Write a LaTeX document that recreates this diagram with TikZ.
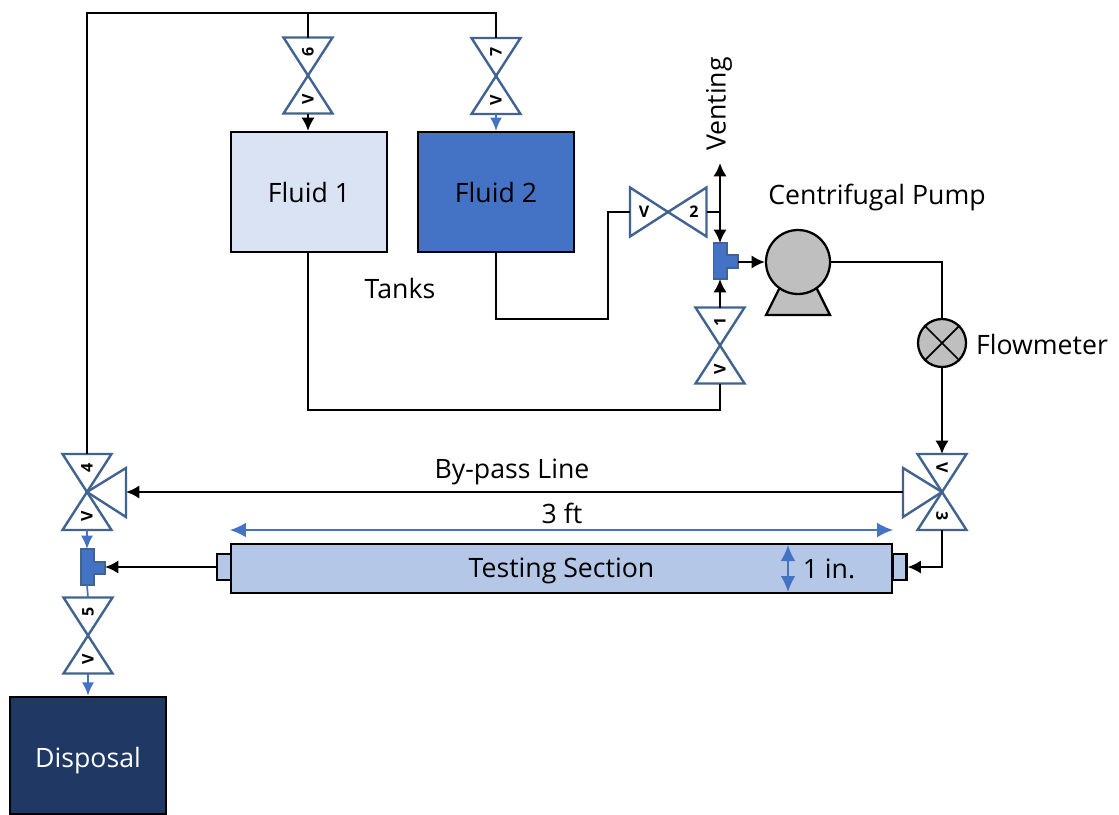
\documentclass[tikz,border=0pt]{standalone}
\usepackage{fontspec}
\setmainfont{Open Sans}
\usetikzlibrary{arrows.meta}
\definecolor{valveblue}{HTML}{41638F}
\definecolor{lineblue}{HTML}{4472C4}
\definecolor{paleblue}{HTML}{DAE3F3}
\definecolor{midblue}{HTML}{B4C7E7}
\definecolor{navy}{HTML}{1F3864}
\definecolor{pumpgrey}{HTML}{BFBFBF}
\tikzset{
  x=0.75pt,y=-0.75pt,
  pipe/.style={draw=black,line width=1.7pt,line join=miter},
  flow/.style={pipe,-{Latex[length=10pt,width=10pt]}},
  flowboth/.style={pipe,{Latex[length=10pt,width=10pt]}-{Latex[length=10pt,width=10pt]}},
  bluepipe/.style={draw=lineblue,line width=1.3pt},
  blueflow/.style={bluepipe,-{Latex[length=10pt,width=9pt]}},
  blueboth/.style={bluepipe,{Latex[length=12pt,width=11pt]}-{Latex[length=12pt,width=11pt]}},
  valveline/.style={draw=valveblue,line width=1.8pt,line join=miter,fill=white},
  vlabel/.style={inner sep=0pt,font=\fontsize{12}{12}\selectfont\bfseries},
  tank/.style={draw=black,line width=1.7pt,inner sep=0pt,text=black,font=\fontsize{20}{24}\selectfont},
  part/.style={draw=black,line width=1.7pt,fill=midblue,inner sep=0pt},
  tee/.style={draw=valveblue,line width=0.8pt,fill=lineblue},
  caption/.style={inner sep=0pt,font=\fontsize{20}{24}\selectfont},
}
\newcommand{\vvalve}[6]{% name, x, y, top label, bottom label, rotation
  \coordinate (#1-c) at (#2,#3);
  \coordinate (#1-t) at (#2,#3-38);
  \coordinate (#1-b) at (#2,#3+38);
  \path[valveline] (#2-24.5,#3-38) -- (#2+24.5,#3-38) -- (#1-c) -- cycle;
  \path[valveline] (#2-24.5,#3+38) -- (#2+24.5,#3+38) -- (#1-c) -- cycle;
  \node[vlabel,rotate=#6] (#1-a) at (#2,#3-24) {#4};
  \node[vlabel,rotate=#6] (#1-z) at (#2,#3+24) {#5};
}
\begin{document}
\begin{tikzpicture}
\useasboundingbox (0,0) rectangle (1119,814);
% tanks and sections
\node[tank,fill=paleblue,minimum width=117pt,minimum height=90pt] (fluidA) at (309,192) {Fluid 1};
\node[tank,fill=lineblue,minimum width=117pt,minimum height=90pt] (fluidB) at (496,192) {Fluid 2};
\node[tank,fill=navy,text=white,minimum width=117pt,minimum height=88pt] (disposal) at (88,755.5) {\raisebox{0pt}[18pt][0pt]{Disposal}};
\node[part,minimum width=10.5pt,minimum height=19.5pt] (capL) at (224,567) {};
\node[part,minimum width=10.5pt,minimum height=19.5pt] (capR) at (899.5,567) {};
\node[part,minimum width=495.75pt,minimum height=36.75pt,font=\fontsize{20}{24}\selectfont] (section) at (561.5,568.5) {\raisebox{0pt}[13.2pt][0pt]{Testing Section}};
% valves
\vvalve{vs}{308}{75.5}{6}{V}{90}
\vvalve{vr}{496}{76}{7}{V}{90}
\vvalve{va}{720}{345.5}{1}{V}{90}
\vvalve{vd}{87}{492}{4}{V}{90}
\vvalve{ve}{88}{635.5}{5}{V}{90}
\vvalve{vc}{942}{492}{V}{3}{-90}
% side inlets of the three-way valves
\coordinate (vd-s) at (126,492);
\coordinate (vc-s) at (903,492);
\path[valveline] (vd-c) -- (126,468) -- (126,517) -- cycle;
\path[valveline] (vc-c) -- (903,468) -- (903,517) -- cycle;
% horizontal valve 2
\coordinate (vb-c) at (668,212);
\coordinate (vb-l) at (630,212);
\coordinate (vb-r) at (706.5,212);
\path[valveline] (630,187.5) -- (630,236.5) -- (vb-c) -- cycle;
\path[valveline] (706.5,187.5) -- (706.5,236.5) -- (vb-c) -- cycle;
\node[vlabel] (vb-a) at (644,212) {V};
\node[vlabel] (vb-z) at (694,212) {2};
% tees
\path[tee] (713.5,243) -- (727,243) -- (727,255) -- (738,255) -- (738,268) -- (727,268) -- (727,279) -- (713.5,279) -- cycle;
\coordinate (teeA-t) at (720,243);
\coordinate (teeA-b) at (720,279);
\coordinate (teeA-r) at (738,262);
\path[tee] (81,549) -- (94,549) -- (94,562) -- (105,562) -- (105,574) -- (94,574) -- (94,585) -- (81,585) -- cycle;
\coordinate (teeB-t) at (87,549);
\coordinate (teeB-b) at (87,585);
\coordinate (teeB-r) at (105,567);
% pump and flowmeter
\path[draw=black,line width=1.7pt,fill=pumpgrey] (781,285) -- (766,315) -- (830,315) -- (815,285) -- cycle;
\node[circle,draw=black,line width=1.7pt,fill=pumpgrey,minimum size=48pt,inner sep=0pt] (pump) at (798,262) {};
\node[circle,draw=black,line width=1.7pt,fill=pumpgrey,minimum size=36pt,inner sep=0pt] (meter) at (942,343) {};
\draw[black,line width=1.3pt] (meter.north west) -- (meter.south east) (meter.north east) -- (meter.south west);
% pipes
\coordinate (topL) at (87,13);
\coordinate (topM) at (308,13);
\coordinate (topR) at (496,13);
\coordinate (ventTip) at (720,163);
\coordinate (ventJ) at (720,212);
\draw[pipe] (vd-t) -- (topL) -- (topR) -- (vr-t);
\draw[pipe] (topM) -- (vs-t);
\draw[flow] (vs-b) -- (fluidA.north -| vs-b);
\draw[blueflow] (vr-b) -- (fluidB.north -| vr-b);
\draw[pipe] (fluidB.south) -- (496,319) -- (608,319) -- (608,212) -- (vb-l);
\draw[pipe] (vb-r) -- (ventJ);
\draw[flowboth] (ventTip) -- (teeA-t);
\draw[pipe] (fluidA.south -| vs-b) -- (308,410) -- (720,410) -- (va-b);
\draw[flow] (va-t) -- (teeA-b);
\draw[flow] (teeA-r) -- (pump.west);
\draw[pipe] (pump.east) -- (942,262) -- (meter.north);
\draw[flow] (meter.south) -- (vc-t);
\draw[flow] (vc-s) -- (vd-s);
\draw[flow] (vc-b) -- (942,567) -- (capR.east);
\draw[flow] (capL.west) -- (teeB-r);
\draw[blueflow] (vd-b) -- (teeB-t);
\draw[bluepipe] (teeB-b) -- (ve-t);
\draw[blueflow] (ve-b) -- (disposal.north -| ve-b);
% dimensions
\draw[blueboth] (section.north west |- 0,530) -- (section.north east |- 0,530);
\coordinate (dimT) at (788,545);
\coordinate (dimB) at (788,592);
\draw[blueboth] (dimT) -- (dimB);
% captions
\node[caption,rotate=90] (lVent) at (719,104) {Venting};
\node[caption] (lPump) at (877,197) {Centrifugal Pump};
\node[caption] (lTanks) at (400,288) {Tanks};
\node[caption] (lMeter) at (1042,344) {Flowmeter};
\node[caption] (lBypass) at (512,472) {By-pass Line};
\node[caption] (lLen) at (562,513) {3 ft};
\node[caption] (lDia) at (829,569) {1 in.};
\end{tikzpicture}
\end{document}
